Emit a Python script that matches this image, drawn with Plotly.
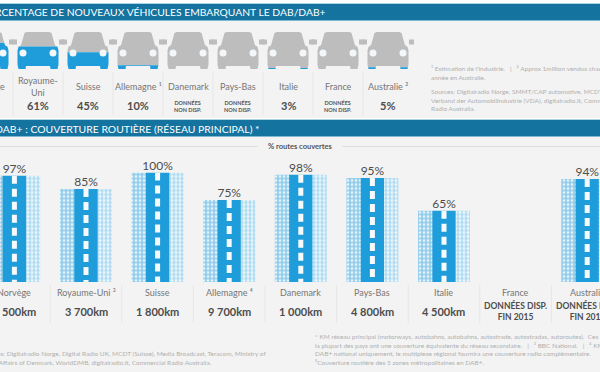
import plotly.graph_objects as go

W, H = 600, 372

# --- data -----------------------------------------------------------------
car_countries = ["Norvège", "Royaume-<br>Uni", "Suisse", "Allemagne ¹", "Danemark", "Pays-Bas", "Italie", "France", "Australie ²"]
car_share = [70, 61, 45, 10, None, None, 3, None, 5]
car_labels = ["", "61%", "45%", "10%", None, None, "3%", None, "5%"]

road_countries = ["Norvège", "Royaume-Uni ³", "Suisse", "Allemagne ⁴", "Danemark", "Pays-Bas", "Italie", "France", "Australie"]
road_coverage = [97, 85, 100, 75, 98, 95, 65, None, 94]
road_km = ["2 500km", "3 700km", "1 800km", "9 700km", "1 000km", "4 800km", "4 500km", None, None]
road_pending = [None, None, None, None, None, None, None, "DONNÉES DISP.<br>FIN 2015", "DONNÉES DISP.<br>FIN 2015"]

title_top = "POURCENTAGE DE NOUVEAUX VÉHICULES EMBARQUANT LE DAB/DAB+"
title_road = "DAB+ : COUVERTURE ROUTIÈRE (RÉSEAU PRINCIPAL) *"

notes_top = ["¹ Estimation de l'industrie.   |   ² Approx 1million vendus chaque",
             "année en Australie.",
             "Sources: Digitalradio Norge, SMMT/CAP automotive, MCDT (Suisse),",
             "Verband der Automobilindustrie (VDA), digitalradio.it, Commercial",
             "Radio Australia."]
notes_left = ["Sources: Digitalradio Norge, Digital Radio UK, MCDT (Suisse), Media Broadcast, Teracom, Ministry of",
              "Foreign Affairs of Denmark, WorldDMB, digitalradio.it, Commercial Radio Australia."]
notes_right = ["* KM réseau principal (motorways, autobahns, autobahns, autostrade, autostradas, autoroutes).  Ces",
               "la plupart des pays ont une couverture équivalente du réseau secondaire.   |   ³ BBC National.   |   ⁴ KM",
               "DAB+ national uniquement, le multiplexe régional fournira une couverture radio complémentaire.",
               "⁵Couverture routière des 5 zones métropolitaines en DAB+."]

# --- styles ---------------------------------------------------------------
FONT = "Lato"
BLUE = "#1f9ddb"
GREY = "#bdbdbd"
BAND = "#14739f"
BG = "#f3f3f3"
TEXT = "#767676"
DARK = "#4d4d4d"
NOTE = "#b0b0b0"

# pixel geometry of the two scales
CAR0, CAR_STEP = 38.0, 50.0
ROAD0, ROAD_STEP = 14.4, 71.6
CAR_TOP, CAR_BOT = 32.0, 69.0
ROAD_TOP, ROAD_BOT = 172.5, 282.0


def pxx(x):
    return x / W


def pxy(y):
    return 1 - y / H


# car silhouette, (half-)width in pixels, height in % of the car
_half = [(0, 100), (11.5, 100), (13.5, 97), (17, 64), (19.5, 60), (20.5, 50), (20.5, 12),
         (19.5, 0), (12.5, 0), (12, 8), (0, 8)]
SILHOUETTE = _half + [(-a, b) for a, b in reversed(_half[:-1])]


def clip(poly, level, keep_below):
    """Clip a polygon against a horizontal line y = level."""
    out = []
    inside = (lambda p: p[1] <= level) if keep_below else (lambda p: p[1] >= level)
    for i, p in enumerate(poly):
        q = poly[(i + 1) % len(poly)]
        if inside(p):
            out.append(p)
        if inside(p) != inside(q):
            t = (level - p[1]) / (q[1] - p[1])
            out.append((p[0] + t * (q[0] - p[0]), level))
    return out


fig = go.Figure()

# --- road chart -----------------------------------------------------------
idx = list(range(len(road_countries)))
track_opts = dict(y=road_coverage, width=0.21, xaxis="x", yaxis="y", showlegend=False, hoverinfo="skip")
fig.add_trace(go.Bar(x=[i - 0.258 for i in idx],
                     marker=dict(color="#a9d8f0", line_width=0,
                                 pattern=dict(shape="+", size=4, solidity=0.6, fgcolor="#2f9fd9", bgcolor="#e6f3fa")),
                     **track_opts))
fig.add_trace(go.Bar(x=[i + 0.258 for i in idx],
                     marker=dict(color="#c5e5f5", line_width=0,
                                 pattern=dict(shape="+", size=4, solidity=0.5, fgcolor="#4fb1e2", bgcolor="#eef7fb")),
                     **track_opts))
fig.add_trace(go.Bar(x=idx, y=road_coverage, width=0.325, marker=dict(color=BLUE, line_width=0),
                     xaxis="x", yaxis="y", showlegend=False, hoverinfo="skip"))
for i, v in zip(idx, road_coverage):
    if v is not None:
        fig.add_trace(go.Scatter(x=[i, i], y=[v, 0], mode="lines",
                                 line=dict(color="#f6fafc", width=5, dash="8px,5px"),
                                 xaxis="x", yaxis="y", showlegend=False, hoverinfo="skip"))
fig.add_trace(go.Scatter(x=idx, y=road_coverage, mode="text",
                         text=[None if v is None else f"{v}%" for v in road_coverage],
                         textposition="top center",
                         textfont=dict(family=FONT, size=12, color=DARK),
                         cliponaxis=False, xaxis="x", yaxis="y", showlegend=False, hoverinfo="skip"))

# --- car chart ------------------------------------------------------------
for i, share in enumerate(car_share):
    s = share if share is not None else 0
    for part, colour in ((clip(SILHOUETTE, s, False), GREY), (clip(SILHOUETTE, s, True), BLUE)):
        if len(part) > 2:
            fig.add_trace(go.Scatter(x=[i + a / CAR_STEP for a, b in part] + [i + part[0][0] / CAR_STEP],
                                     y=[b for a, b in part] + [part[0][1]],
                                     mode="lines", fill="toself", fillcolor=colour, line=dict(width=0),
                                     xaxis="x2", yaxis="y2", showlegend=False, hoverinfo="skip"))
    for side in (-1, 1):
        fig.add_trace(go.Scatter(x=[i + side * 23.5 / CAR_STEP], y=[73], mode="markers",
                                 marker=dict(symbol="square", size=5, color=GREY, line_width=0),
                                 xaxis="x2", yaxis="y2", showlegend=False, hoverinfo="skip"))
        fig.add_trace(go.Scatter(x=[i + side * 15 / CAR_STEP], y=[43], mode="markers",
                                 marker=dict(size=7, color="#f4f7f9", line_width=0),
                                 xaxis="x2", yaxis="y2", showlegend=False, hoverinfo="skip"))

# --- furniture ------------------------------------------------------------
shapes = []


def rect(x0, y0, x1, y1, colour):
    shapes.append(dict(type="rect", xref="paper", yref="paper", x0=pxx(x0), x1=pxx(x1), y0=pxy(y0), y1=pxy(y1),
                       fillcolor=colour, line_width=0, layer="below"))


def vline(x, y0, y1, colour="#e6e6e6"):
    shapes.append(dict(type="line", xref="paper", yref="paper", x0=pxx(x), x1=pxx(x), y0=pxy(y0), y1=pxy(y1),
                       line=dict(color=colour, width=1), layer="below"))


def hline(x0, x1, y, colour="#dedede"):
    shapes.append(dict(type="line", xref="paper", yref="paper", x0=pxx(x0), x1=pxx(x1), y0=pxy(y), y1=pxy(y),
                       line=dict(color=colour, width=1), layer="below"))


rect(0, 0, 600, 3, "#ffffff")
rect(0, 3, 600, 4, "#a9d3e6")
rect(0, 4, 600, 20, BAND)
rect(0, 20, 600, 21, "#7fb8d3")
rect(0, 118, 600, 119, "#ffffff")
rect(0, 119, 600, 120, "#a9d3e6")
rect(0, 120, 600, 136, BAND)
rect(0, 136, 600, 137, "#7fb8d3")
for k in range(8):
    vline(CAR0 + CAR_STEP * (k - 0.5), 72, 115)
for k in range(8):
    vline(ROAD0 + ROAD_STEP * (k + 0.5), 285, 323)
hline(0, 258, 146.5)
hline(342, 600, 146.5)

ann = []


def label(x, y, text, size=9, colour=TEXT, anchor="center", bold=False):
    ann.append(dict(xref="paper", yref="paper", x=pxx(x), y=pxy(y), xanchor=anchor, yanchor="middle",
                    text=f"<b>{text}</b>" if bold else text, showarrow=False, align=anchor,
                    font=dict(family=FONT, size=size, color=colour)))


label(328, 12, title_top, 10.3, "#ffffff", "right")
label(262, 128.5, title_road, 10.4, "#ffffff", "right")
label(300, 146.5, "% routes couvertes", 7.5, "#555555", bold=True)

for i, name in enumerate(car_countries):
    cx = CAR0 + CAR_STEP * (i - 1)
    label(cx, 86, name, 9)
    if car_share[i] is None:
        label(cx, 106, "DONNÉES<br>NON DISP.", 5.5, "#555555", bold=True)
    elif car_labels[i]:
        label(cx, 106, car_labels[i], 11, DARK, bold=True)

for i, name in enumerate(road_countries):
    cx = ROAD0 + ROAD_STEP * i
    label(cx, 292, name, 9)
    if road_km[i]:
        label(cx, 311, road_km[i], 11, DARK, bold=True)
    else:
        label(cx, 311, road_pending[i], 8.5, DARK, bold=True)

for y, line in zip((68, 77, 91.5, 100, 109), notes_top):
    label(429, y, line, 6.5, NOTE, "left")
for y, end, line in zip((353, 362), (268, 214), notes_left):
    label(end, y, line, 6.5, NOTE, "right")
for y, line in zip((336, 345, 353.5, 362), notes_right):
    label(313, y, line, 6.5, NOTE, "left")

# car scale: index 1 sits on the first fully visible car
x2_range = [(0 - CAR0) / CAR_STEP + 1, (W - CAR0) / CAR_STEP + 1]

fig.update_layout(
    width=W, height=H, margin=dict(l=0, r=0, t=0, b=0), autosize=False,
    paper_bgcolor=BG, plot_bgcolor="rgba(0,0,0,0)", barmode="overlay", showlegend=False,
    font=dict(family=FONT), shapes=shapes, annotations=ann,
    xaxis=dict(range=[(0 - ROAD0) / ROAD_STEP, (W - ROAD0) / ROAD_STEP], domain=[0, 1], visible=False, fixedrange=True),
    yaxis=dict(range=[0, 100], domain=[pxy(ROAD_BOT), pxy(ROAD_TOP)], visible=False, fixedrange=True),
    xaxis2=dict(range=x2_range, domain=[0, 1], visible=False, fixedrange=True, anchor="y2"),
    yaxis2=dict(range=[0, 100], domain=[pxy(CAR_BOT), pxy(CAR_TOP)], visible=False, fixedrange=True, anchor="x2"),
)

fig.write_html("out.html", config=dict(displayModeBar=False),
               post_script="document.body.style.margin='0';document.documentElement.style.overflow='hidden';")
